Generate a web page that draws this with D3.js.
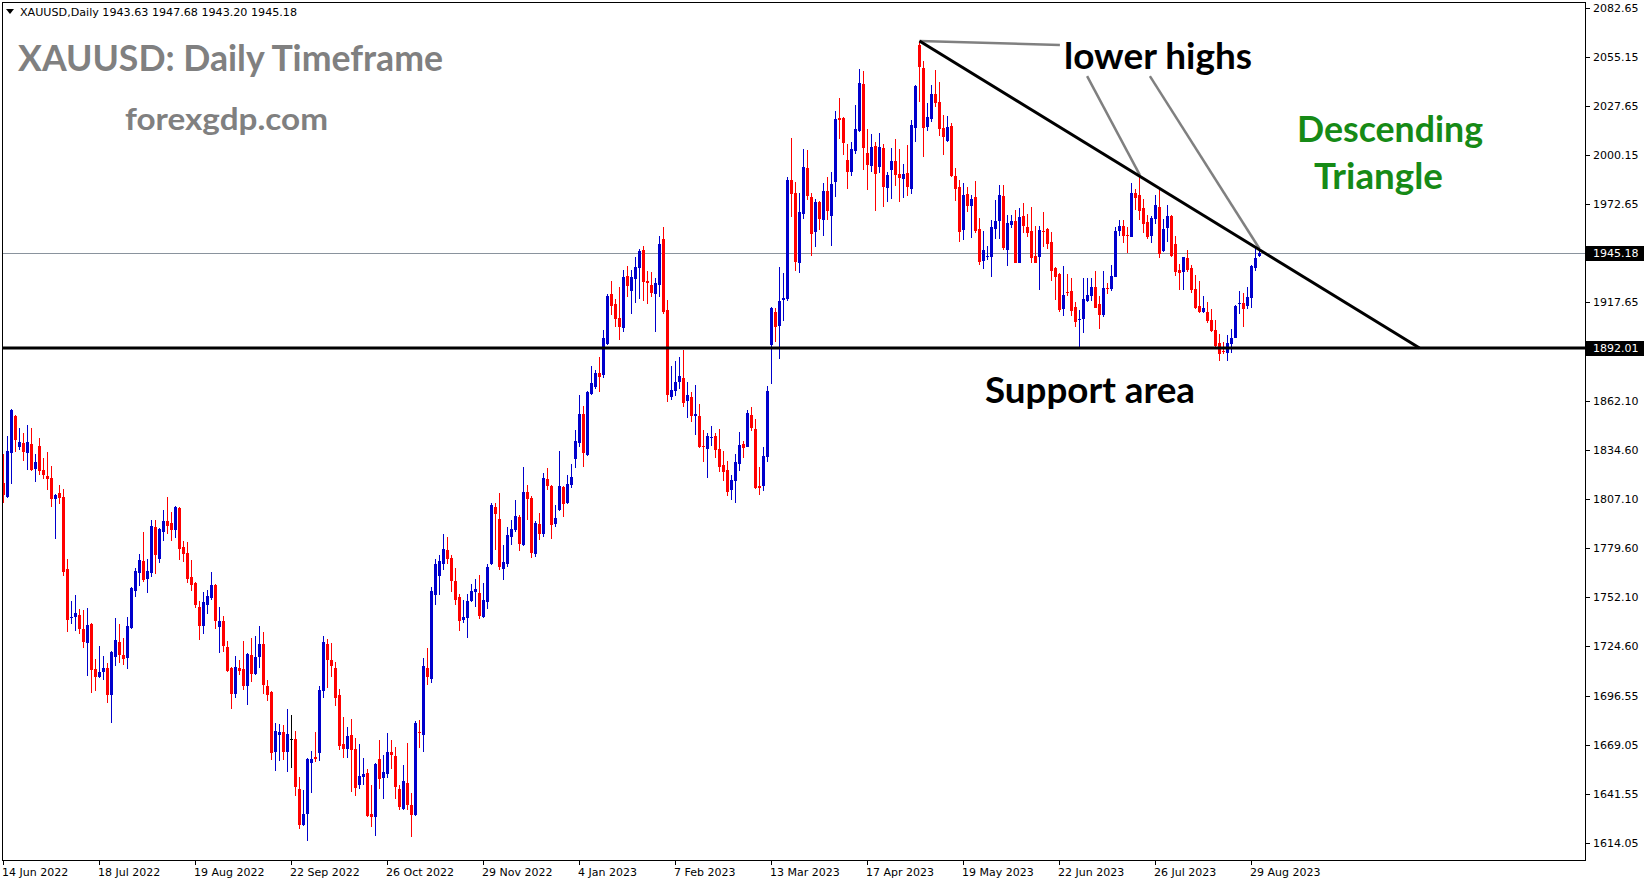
<!DOCTYPE html>
<html>
<head>
<meta charset="utf-8">
<script src="https://cdn.jsdelivr.net/npm/d3@7"></script>
<style>
  html, body { margin: 0; padding: 0; background: #ffffff; }
  svg { display: block; }
</style>
</head>
<body>
<script>
// XAUUSD daily candles, 14 Jun 2022 – 31 Aug 2023
const opens = [
1816.0,1808.5,1833.2,1853.8,1836.6,1838.7,1833.2,1838.1,1824.1,1837.0,1823.5,1820.1,1819.0,1807.4,1810.6,1808.3,1767.9,1740.6,1741.0,1742.1,
1734.2,1726.4,1737.1,1711.8,1707.3,1710.1,1712.4,1697.2,1718.5,1727.0,1719.7,1718.0,1734.8,1755.6,1765.9,1772.4,1762.3,1765.7,1791.5,1773.5,
1788.7,1794.9,1793.8,1789.8,1802.2,1780.3,1776.9,1763.5,1760.1,1746.6,1736.0,1747.8,1751.7,1759.0,1735.4,1738.8,1724.2,1712.4,1697.8,1712.4,
1711.8,1702.3,1719.7,1709.0,1718.6,1725.9,1702.3,1698.9,1665.2,1674.8,1676.5,1665.2,1672.5,1672.5,1644.5,1624.3,1630.4,1659.1,1662.4,1664.7,
1699.5,1725.9,1716.9,1712.4,1697.2,1669.7,1666.9,1674.8,1666.9,1646.7,1651.2,1653.5,1630.5,1628.8,1661.3,1650.7,1652.9,1665.2,1663.0,1644.5,
1633.3,1647.9,1635.5,1629.9,1676.5,1674.8,1712.4,1706.2,1753.4,1764.0,1770.8,1778.6,1774.1,1761.2,1752.3,1739.3,1740.5,1750.0,1755.1,1754.5,
1741.0,1749.4,1770.7,1802.7,1796.0,1767.9,1770.7,1785.9,1789.8,1797.1,1781.4,1811.1,1807.8,1776.3,1793.2,1787.6,1818.4,1814.5,1793.2,1801.0,
1813.9,1805.0,1815.1,1829.6,1838.6,1854.9,1831.9,1866.1,1870.1,1877.9,1876.8,1894.2,1922.3,1916.6,1908.8,1903.2,1932.4,1924.0,1930.7,1936.9,
1947.0,1929.6,1927.4,1922.3,1927.4,1953.2,1913.4,1864.5,1867.9,1872.9,1875.2,1862.3,1864.5,1853.9,1853.9,1837.0,1835.3,1841.5,1842.6,1835.3,
1826.4,1823.5,1812.3,1817.4,1826.9,1838.1,1836.5,1854.4,1846.6,1814.6,1814.6,1830.8,1893.7,1912.2,1904.4,1919.0,1919.5,1986.3,1979.0,1939.7,
1967.2,1993.1,1976.8,1957.3,1974.0,1964.0,1980.1,1966.3,1985.4,2021.1,2021.1,1997.5,1991.0,2002.8,2014.0,2040.2,2001.5,1994.4,2005.4,1993.8,
2004.3,1982.0,1992.1,1997.0,1989.7,1987.1,1990.2,1981.4,2015.7,2062.1,2049.2,2016.2,2020.7,2034.6,2030.1,2015.5,2008.4,2016.6,1988.7,1982.4,
1958.4,1978.6,1971.9,1976.7,1958.8,1941.0,1943.2,1943.2,1958.9,1963.4,1977.3,1947.2,1961.2,1963.3,1939.9,1966.1,1959.9,1957.6,1943.6,1943.2,
1957.6,1958.8,1951.5,1937.1,1933.5,1914.1,1923.6,1924.0,1915.0,1907.9,1908.4,1918.5,1921.4,1926.2,1916.7,1910.7,1925.8,1925.3,1932.0,1957.8,
1960.5,1955.4,1954.5,1979.0,1977.9,1970.6,1962.7,1955.0,1964.6,1971.1,1946.6,1959.5,1966.1,1950.3,1935.9,1934.8,1942.7,1937.1,1925.1,1915.7,
1912.4,1912.4,1907.9,1902.3,1894.9,1890.3,1889.4,1894.4,1897.8,1917.0,1917.4,1915.7,1920.2,1937.1,1943.63
];
const highs = [
1832.5,1842.6,1857.7,1854.4,1847.1,1844.3,1848.8,1847.1,1832.5,1841.5,1830.2,1833.6,1825.7,1810.0,1815.1,1812.8,1773.5,1750.0,1753.3,1745.5,
1744.9,1746.0,1737.6,1717.4,1724.7,1719.1,1715.2,1721.8,1740.4,1737.1,1729.2,1741.0,1757.8,1768.5,1776.3,1788.7,1773.5,1795.4,1795.4,1790.9,
1801.0,1808.3,1800.0,1803.3,1802.8,1783.7,1783.1,1773.0,1760.6,1750.0,1755.0,1756.2,1766.3,1759.5,1746.6,1741.6,1727.5,1712.9,1719.1,1716.9,
1727.5,1720.7,1729.2,1730.4,1736.0,1732.6,1705.7,1699.5,1681.5,1681.0,1680.4,1689.4,1686.0,1677.0,1651.2,1643.9,1661.8,1665.8,1676.5,1702.3,
1730.4,1728.7,1726.4,1715.8,1700.6,1684.9,1679.3,1683.8,1673.1,1669.7,1661.9,1655.7,1646.7,1659.1,1672.0,1663.6,1675.9,1672.0,1668.1,1646.7,
1658.0,1670.3,1642.2,1682.7,1683.2,1718.0,1723.6,1757.9,1773.6,1775.8,1787.6,1785.9,1775.8,1768.5,1753.9,1750.6,1753.9,1759.5,1762.4,1764.6,
1760.1,1770.8,1805.0,1805.0,1810.6,1781.4,1791.5,1795.4,1806.6,1798.2,1825.2,1815.1,1808.9,1794.9,1799.3,1821.8,1824.6,1815.1,1803.8,1834.1,
1814.4,1820.7,1826.8,1845.9,1865.6,1859.4,1867.8,1881.9,1879.6,1886.9,1902.1,1922.3,1929.6,1919.5,1926.2,1935.7,1938.0,1935.7,1943.0,1947.5,
1949.2,1935.2,1934.7,1931.3,1954.9,1959.9,1919.0,1881.9,1884.7,1886.9,1890.9,1872.9,1867.3,1871.3,1860.6,1846.0,1844.3,1848.2,1844.3,1846.6,
1834.2,1828.6,1820.7,1832.5,1844.9,1839.8,1857.2,1858.9,1852.2,1825.2,1836.5,1870.7,1915.0,1914.5,1937.5,1934.1,1988.0,2009.9,1985.2,1979.0,
2003.7,2003.2,1979.0,1975.6,1974.5,1984.6,1988.0,1990.8,2025.0,2032.3,2021.6,2006.5,2007.6,2028.4,2048.6,2047.5,2014.9,2012.1,2007.6,2012.7,
2006.5,1990.8,2004.3,2009.3,2003.7,1995.3,2006.0,2020.0,2039.6,2064.3,2053.1,2029.5,2039.6,2048.0,2041.3,2022.8,2022.2,2018.3,1993.2,1986.3,
1984.8,1982.6,1977.9,1985.7,1964.9,1957.6,1949.2,1963.8,1975.0,1983.5,1983.5,1966.6,1966.6,1969.4,1970.6,1973.4,1967.2,1971.1,1960.5,1960.5,
1968.3,1959.2,1957.1,1937.5,1933.9,1938.0,1933.7,1931.5,1918.0,1913.3,1931.5,1931.5,1931.5,1935.2,1921.4,1935.2,1928.6,1938.6,1959.9,1963.8,
1963.8,1959.9,1984.6,1981.2,1988.0,1975.6,1966.6,1966.1,1977.9,1982.3,1964.4,1972.2,1966.6,1954.8,1939.3,1943.2,1947.2,1938.8,1933.1,1929.8,
1921.4,1918.0,1914.1,1907.9,1900.0,1895.5,1899.5,1902.8,1916.3,1924.2,1923.0,1926.2,1938.8,1948.3,1947.68
];
const lows = [
1805.2,1808.0,1815.6,1833.6,1834.7,1828.7,1823.5,1822.9,1816.8,1820.9,1818.6,1812.3,1802.9,1785.0,1804.6,1764.0,1732.6,1737.2,1733.1,1731.4,
1723.8,1707.9,1698.3,1699.4,1706.7,1705.6,1692.7,1681.5,1713.5,1715.2,1714.0,1711.8,1734.2,1752.2,1758.4,1760.6,1754.5,1763.4,1765.1,1771.3,
1783.6,1787.6,1783.7,1785.4,1773.0,1771.9,1760.1,1755.6,1746.1,1728.1,1731.5,1742.7,1750.6,1734.3,1720.8,1721.4,1710.1,1689.4,1695.6,1708.5,
1700.0,1691.6,1704.5,1708.5,1712.4,1697.8,1693.9,1660.7,1654.6,1660.2,1660.7,1654.0,1656.3,1640.5,1622.0,1623.8,1615.3,1642.2,1659.6,1660.2,
1695.6,1701.2,1707.3,1691.1,1666.4,1661.9,1661.9,1642.8,1640.6,1644.5,1646.7,1628.8,1623.2,1618.1,1644.5,1638.9,1650.7,1655.7,1638.9,1632.7,
1632.7,1632.7,1617.5,1629.3,1667.5,1665.3,1702.9,1704.0,1747.8,1753.4,1767.4,1770.8,1755.1,1747.8,1733.2,1737.7,1729.2,1749.4,1746.6,1739.9,
1740.5,1745.5,1770.2,1778.6,1767.3,1762.0,1769.0,1781.4,1788.7,1778.0,1780.8,1795.4,1774.1,1774.6,1784.2,1785.9,1812.2,1784.7,1791.5,1800.5,
1797.1,1804.4,1813.4,1824.6,1836.4,1825.2,1831.3,1865.6,1868.9,1867.3,1875.1,1893.6,1910.5,1903.7,1896.4,1900.9,1920.6,1911.0,1917.2,1919.5,
1918.3,1916.6,1920.6,1901.0,1920.6,1911.1,1861.7,1862.8,1865.1,1869.0,1858.9,1852.7,1850.5,1843.2,1836.0,1828.0,1819.1,1837.0,1830.3,1822.4,
1817.4,1808.9,1806.7,1805.0,1823.0,1830.3,1836.5,1845.4,1812.9,1809.5,1811.8,1828.0,1871.8,1895.4,1885.8,1907.2,1918.4,1965.6,1935.2,1934.1,
1964.4,1975.1,1943.8,1948.9,1958.4,1955.1,1964.0,1949.4,1977.0,2009.5,2000.5,1981.4,1988.7,2001.1,2013.5,1992.1,1980.9,1991.0,1969.1,1990.4,
1971.3,1974.1,1975.8,1983.1,1974.1,1976.4,1977.5,1978.6,2007.8,2030.3,1999.4,2014.0,2019.0,2027.5,2011.2,2000.5,2007.6,1988.2,1974.7,1951.7,
1952.8,1968.5,1953.9,1956.7,1938.8,1936.5,1941.4,1932.0,1953.3,1953.2,1947.2,1938.2,1959.3,1939.5,1939.5,1956.7,1954.5,1939.9,1939.5,1924.7,
1948.9,1947.7,1929.8,1919.1,1912.4,1910.1,1921.4,1910.1,1904.0,1892.7,1900.6,1918.0,1918.5,1914.2,1902.8,1909.6,1922.5,1924.2,1931.6,1955.0,
1951.1,1945.5,1954.1,1969.4,1963.8,1956.7,1953.3,1951.1,1961.8,1942.7,1946.0,1951.7,1943.2,1932.6,1924.7,1924.7,1934.8,1923.0,1914.1,1911.8,
1911.8,1906.2,1901.1,1892.7,1884.9,1888.8,1884.9,1889.4,1897.4,1911.2,1904.0,1914.1,1914.6,1935.4,1943.20
];
const closes = [
1809.5,1834.2,1857.2,1840.3,1839.2,1833.8,1839.2,1823.5,1828.0,1823.1,1820.9,1818.4,1807.4,1809.5,1808.0,1766.3,1739.3,1741.0,1743.2,1734.2,
1727.0,1736.5,1711.2,1707.3,1710.1,1712.4,1697.2,1721.3,1728.1,1719.7,1717.4,1735.9,1757.3,1766.8,1773.0,1761.8,1766.8,1792.1,1775.8,1790.4,
1794.9,1792.1,1789.8,1802.8,1779.2,1776.4,1762.3,1759.0,1747.8,1736.0,1749.4,1752.8,1759.0,1738.8,1738.8,1724.7,1710.7,1697.8,1712.9,1710.7,
1702.3,1720.2,1709.0,1718.6,1725.9,1702.8,1697.2,1664.7,1677.0,1676.5,1665.2,1675.3,1672.5,1645.6,1624.3,1630.4,1661.3,1661.3,1661.3,1700.0,
1727.0,1716.9,1713.5,1695.6,1668.6,1666.9,1674.2,1666.4,1645.0,1651.8,1652.9,1629.3,1628.8,1658.5,1650.1,1654.0,1665.2,1663.6,1645.6,1634.4,
1649.0,1635.5,1629.9,1681.5,1676.1,1713.5,1707.4,1755.6,1770.8,1772.5,1779.2,1773.6,1761.2,1750.6,1738.8,1741.0,1750.0,1755.6,1756.7,1741.6,
1750.6,1769.1,1803.8,1798.8,1769.0,1771.8,1787.0,1790.4,1797.7,1781.9,1811.1,1807.2,1776.9,1793.7,1787.6,1819.0,1814.5,1792.6,1796.5,1814.5,
1804.4,1815.6,1819.5,1839.7,1854.9,1833.0,1867.3,1872.3,1877.9,1875.7,1897.6,1921.1,1915.5,1908.2,1903.7,1931.8,1926.8,1931.8,1937.4,1946.4,
1929.0,1928.4,1922.9,1928.5,1950.4,1912.2,1865.6,1868.4,1872.9,1876.3,1861.2,1865.6,1853.9,1855.0,1836.5,1836.5,1842.6,1842.1,1834.8,1825.2,
1822.4,1811.2,1817.9,1828.0,1837.6,1835.9,1855.5,1847.1,1813.4,1813.4,1831.4,1867.9,1914.5,1903.8,1918.4,1920.1,1986.3,1978.5,1940.3,1968.4,
1993.6,1977.3,1956.2,1974.0,1964.6,1980.1,1969.1,1984.1,2020.5,2020.2,2007.3,1991.0,2003.7,2014.9,2040.8,2004.5,1994.9,2004.8,1989.5,2004.8,
1982.6,1989.1,1997.0,1989.3,1987.6,1989.7,1982.6,2017.2,2039.1,2049.9,2015.7,2021.7,2034.6,2029.7,2015.1,2010.6,2016.1,1988.7,1981.4,1957.3,
1978.1,1971.9,1975.6,1957.8,1940.4,1947.0,1943.6,1959.9,1963.3,1978.0,1948.3,1962.2,1963.3,1939.9,1965.5,1960.6,1956.7,1942.7,1939.9,1958.2,
1957.1,1950.5,1935.4,1932.0,1913.5,1921.7,1923.0,1912.9,1906.8,1908.1,1919.5,1921.7,1926.2,1914.6,1910.7,1925.7,1925.3,1932.4,1957.6,1960.5,
1955.0,1955.0,1979.0,1976.4,1968.9,1961.8,1954.5,1964.9,1972.2,1944.9,1959.0,1966.1,1943.8,1934.8,1934.3,1942.9,1935.9,1924.7,1914.6,1912.4,
1914.6,1907.3,1901.7,1893.3,1888.8,1889.9,1894.9,1897.8,1915.7,1917.4,1914.1,1920.8,1938.2,1942.7,1945.18
];

// time axis labels and the bar each one sits on
const dateTickBars = [0, 24, 48, 72, 96, 120, 144, 168, 192, 216, 240, 264, 288, 312];
const dateTickLabels = ["14 Jun 2022", "18 Jul 2022", "19 Aug 2022", "22 Sep 2022", "26 Oct 2022", "29 Nov 2022",
  "4 Jan 2023", "7 Feb 2023", "13 Mar 2023", "17 Apr 2023", "19 May 2023", "22 Jun 2023", "26 Jul 2023", "29 Aug 2023"];

// price axis labels
const priceTicks = [2082.65, 2055.15, 2027.65, 2000.15, 1972.65, 1917.65, 1862.10, 1834.60, 1807.10,
  1779.60, 1752.10, 1724.60, 1696.55, 1669.05, 1641.55, 1614.05];

// levels and drawn objects, as [bar, price]
const bidPrice = 1945.18;
const supportPrice = 1892.01;
const trendLine = [[229, 2064.3], [354, 1892.0]];
const pointerLines = [
  [[229, 2064.3], [264.1, 2062.0]],
  [[270.9, 2044.6], [284.1, 1989.0]],
  [[286.6, 2044.6], [314, 1947.7]]
];

const W = 1649, H = 884;
const plotLeft = 2, plotRight = 1585, plotTop = 2, plotBottom = 860;

const x = d3.scaleLinear().domain([0, 314]).range([3.5, 1259.5]);
const y = d3.scaleLinear().domain([1614.05, 2082.65]).range([843.2, 8.3]);

const svg = d3.select("body").append("svg")
  .attr("width", W).attr("height", H)
  .attr("viewBox", `0 0 ${W} ${H}`);

svg.append("rect").attr("width", W).attr("height", H).attr("fill", "#ffffff");

svg.append("defs").append("clipPath").attr("id", "plot-clip")
  .append("rect")
  .attr("x", plotLeft + 1).attr("y", plotTop + 1)
  .attr("width", plotRight - plotLeft - 1).attr("height", plotBottom - plotTop - 1);

const plot = svg.append("g").attr("clip-path", "url(#plot-clip)");

// bid line
const snap = v => Math.round(v) + 0.5;
plot.append("line")
  .attr("x1", plotLeft).attr("x2", plotRight)
  .attr("y1", snap(y(bidPrice))).attr("y2", snap(y(bidPrice)))
  .attr("stroke", "#8a939d").attr("stroke-width", 1);

// candles
const bars = d3.range(opens.length).map(i => ({
  i, o: opens[i], h: highs[i], l: lows[i], c: closes[i]
}));
const colorOf = d => d.c > d.o ? "#0000cc" : (d.c < d.o ? "#ff0000" : "#000000");

const candles = plot.append("g").attr("shape-rendering", "crispEdges");
candles.selectAll("rect.wick").data(bars).join("rect")
  .attr("class", "wick")
  .attr("x", d => x(d.i) - 0.5)
  .attr("y", d => y(d.h))
  .attr("width", 1)
  .attr("height", d => Math.max(1, y(d.l) - y(d.h)))
  .attr("fill", colorOf);
candles.selectAll("rect.body").data(bars).join("rect")
  .attr("class", "body")
  .attr("x", d => x(d.i) - 1.5)
  .attr("y", d => y(Math.max(d.o, d.c)))
  .attr("width", 3)
  .attr("height", d => Math.max(1, Math.abs(y(d.o) - y(d.c))))
  .attr("fill", colorOf);

// support level
plot.append("line")
  .attr("x1", plotLeft).attr("x2", plotRight)
  .attr("y1", y(supportPrice)).attr("y2", y(supportPrice))
  .attr("stroke", "#000000").attr("stroke-width", 3);

// pointer lines from the "lower highs" note
const lineGen = d3.line().x(d => x(d[0])).y(d => y(d[1]));
plot.selectAll("path.pointer").data(pointerLines).join("path")
  .attr("class", "pointer")
  .attr("d", lineGen)
  .attr("fill", "none")
  .attr("stroke", "#808080")
  .attr("stroke-width", 2.5);

// descending trend line
plot.append("path")
  .attr("d", lineGen(trendLine))
  .attr("fill", "none")
  .attr("stroke", "#000000")
  .attr("stroke-width", 3);

// frame
svg.append("rect")
  .attr("x", plotLeft + 0.5).attr("y", plotTop + 0.5)
  .attr("width", plotRight - plotLeft).attr("height", plotBottom - plotTop)
  .attr("fill", "none").attr("stroke", "#000000").attr("stroke-width", 1)
  .attr("shape-rendering", "crispEdges");

const axisFont = "'DejaVu Sans', Verdana, sans-serif";

// price axis
const yAxis = svg.append("g").attr("shape-rendering", "crispEdges");
yAxis.selectAll("line").data(priceTicks).join("line")
  .attr("x1", plotRight).attr("x2", plotRight + 5)
  .attr("y1", d => snap(y(d))).attr("y2", d => snap(y(d)))
  .attr("stroke", "#000000");
svg.append("g").selectAll("text").data(priceTicks).join("text")
  .attr("x", plotRight + 8)
  .attr("y", d => y(d))
  .attr("dy", "0.36em")
  .attr("font-family", axisFont).attr("font-size", 11)
  .attr("fill", "#000000")
  .text(d => d.toFixed(2));

// highlighted price labels
[bidPrice, supportPrice].forEach(p => {
  const g = svg.append("g");
  g.append("rect")
    .attr("x", plotRight + 1).attr("y", Math.round(y(p)) - 7)
    .attr("width", 58).attr("height", 15)
    .attr("fill", "#000000");
  g.append("text")
    .attr("x", plotRight + 8).attr("y", y(p)).attr("dy", "0.36em")
    .attr("font-family", axisFont).attr("font-size", 11)
    .attr("fill", "#ffffff")
    .text(p.toFixed(2));
});

// time axis
const xAxis = svg.append("g");
xAxis.selectAll("line").data(dateTickBars).join("line")
  .attr("x1", d => snap(x(d) - 1)).attr("x2", d => snap(x(d) - 1))
  .attr("y1", plotBottom).attr("y2", plotBottom + 5)
  .attr("stroke", "#000000").attr("shape-rendering", "crispEdges");
xAxis.selectAll("text").data(dateTickBars).join("text")
  .attr("x", d => x(d) - 1.5)
  .attr("y", plotBottom + 12)
  .attr("dy", "0.36em")
  .attr("font-family", axisFont).attr("font-size", 11)
  .attr("fill", "#000000")
  .text((d, k) => dateTickLabels[k]);

// header line
svg.append("path")
  .attr("d", "M6,9 L14,9 L10,14 Z")
  .attr("fill", "#000000");
svg.append("text")
  .attr("x", 20).attr("y", 16)
  .attr("font-family", axisFont).attr("font-size", 11)
  .attr("textLength", 277).attr("lengthAdjust", "spacingAndGlyphs")
  .attr("fill", "#000000")
  .text("XAUUSD,Daily  1943.63 1947.68 1943.20 1945.18");

// chart notes
const noteFont = "Lato, 'Open Sans', sans-serif";
const notes = [
  { t: "XAUUSD: Daily Timeframe", x: 18, y: 71, w: 425, size: 37, fill: "#808080" },
  { t: "forexgdp.com", x: 125, y: 130, w: 203, size: 30, fill: "#808080" },
  { t: "lower highs", x: 1064, y: 69, w: 188, size: 36, fill: "#000000" },
  { t: "Descending", x: 1297, y: 142, w: 186, size: 37, fill: "#168a16" },
  { t: "Triangle", x: 1314, y: 189, w: 129, size: 37, fill: "#168a16" },
  { t: "Support area", x: 985, y: 403, w: 210, size: 37, fill: "#000000" }
];
svg.append("g").selectAll("text").data(notes).join("text")
  .attr("x", d => d.x).attr("y", d => d.y)
  .attr("font-family", noteFont).attr("font-weight", 700)
  .attr("font-size", d => d.size)
  .attr("textLength", d => d.w).attr("lengthAdjust", "spacingAndGlyphs")
  .attr("fill", d => d.fill)
  .text(d => d.t);
</script>
</body>
</html>
